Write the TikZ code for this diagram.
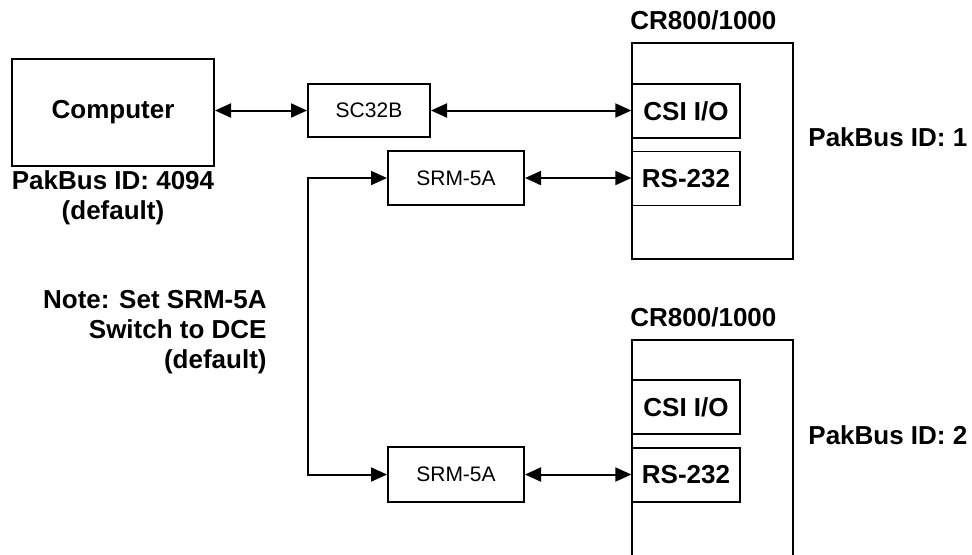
\documentclass[tikz,border=0pt]{standalone}
\usepackage{fontspec}
\setmainfont{Liberation Sans}
\usepackage{tikz}
\usetikzlibrary{arrows.meta,positioning}

\begin{document}
\begin{tikzpicture}[
  x=0.5pt, y=-0.5pt,
  box/.style={draw, line width=1pt, inner sep=0pt, font=\fontsize{10.5}{12.6}\selectfont},
  port/.style={draw, line width=0.7pt, fill=white, minimum width=54pt, minimum height=27pt, inner sep=0pt, font=\fontsize{13}{15}\selectfont\bfseries},
  lbl/.style={inner sep=0pt, font=\fontsize{13}{15}\selectfont\bfseries},
  arr/.style={{Triangle[length=8pt,width=7pt]}-{Triangle[length=8pt,width=7pt]}, line width=1pt}
]
\clip (0,0) rectangle (972,554);
\fill[white] (0,0) rectangle (972,554);

% computer side
\node[box, minimum width=101pt, minimum height=53.5pt, font=\fontsize{13}{15}\selectfont\bfseries] (pc) at (113,112) {Computer};
\node[lbl, align=center, anchor=north] (pcid) at (113,170) {PakBus ID: 4094\\(default)};
\node[box, minimum width=61pt, minimum height=26.5pt] (sc) at (369,110.5) {SC32B};
\node[box, minimum width=68pt, minimum height=27pt] (srma) at (456,178) {SRM-5A};
\node[box, minimum width=68pt, minimum height=27.5pt] (srmb) at (456,474.5) {SRM-5A};
\node[lbl, align=right, anchor=east] (note) at (267,332) {Note: Set SRM-5A\\Switch to DCE\\(default)};

% first datalogger
\node[box, minimum width=80.5pt, minimum height=108pt] (cra) at (712.5,151) {};
\node[lbl, anchor=west] (cralbl) at (630,20) {CR800/1000};
\node[port] (csia) at (686,111) {CSI I/O};
\node[port] (rsa) at (686,178.5) {RS-232};
\node[lbl, anchor=west] (ida) at (808,137) {PakBus ID: 1};

% second datalogger (runs off the bottom)
\node[box, minimum width=80.5pt, minimum height=130pt] (crb) at (712.5,470) {};
\node[lbl, anchor=west] (crblbl) at (630,317) {CR800/1000};
\node[port] (csib) at (686,407) {CSI I/O};
\node[port] (rsb) at (686,475) {RS-232};
\node[lbl, anchor=west] (idb) at (808,435) {PakBus ID: 2};

\coordinate (bend) at (308,330);

\draw[arr] (pc.east |- sc.west) -- (sc.west);
\draw[arr] (sc.east) -- (csia.west |- sc.east);
\draw[arr] (srma.east) -- (rsa.west |- srma.east);
\draw[arr] (srmb.east) -- (rsb.west |- srmb.east);
\draw[arr] (srma.west) -- (srma.west -| bend) -- (srmb.west -| bend) -- (srmb.west);
\end{tikzpicture}
\end{document}
